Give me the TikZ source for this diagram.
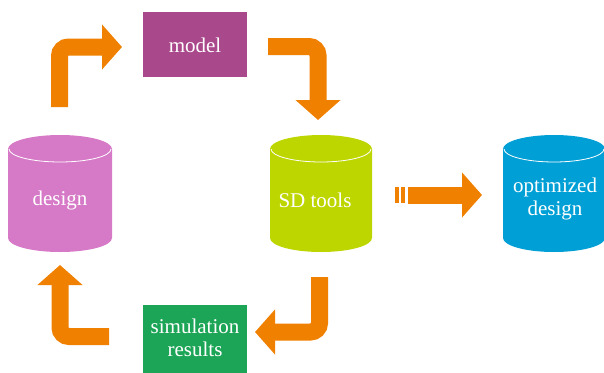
\documentclass[tikz,border=0pt]{standalone}
\usepackage{fontspec}
\setmainfont{Liberation Serif}
\usetikzlibrary{arrows.meta}
\definecolor{orangeA}{RGB}{240,128,0}
\definecolor{purpleM}{RGB}{170,72,140}
\definecolor{pinkD}{RGB}{214,122,200}
\definecolor{limeS}{RGB}{190,214,0}
\definecolor{blueO}{RGB}{0,160,214}
\definecolor{greenS}{RGB}{28,165,86}
\tikzset{
  lbl/.style={text=white, font=\fontsize{21}{24}\selectfont, align=center, inner sep=0pt},
  bigarrow/.style={orangeA, line width=17pt, rounded corners=9pt,
     -{Triangle[length=20pt,width=44pt]}},
}
\newcommand{\cylshape}[3]{% left x, right x, color
  \pgfmathsetmacro{\crx}{(#2-#1)/2}
  \fill[#3] (#1,149) -- (#1,238) arc[start angle=180,end angle=0,x radius=\crx,y radius=14]
     -- (#2,149) arc[start angle=0,end angle=-180,x radius=\crx,y radius=14] -- cycle;
  \draw[white, line width=0.8pt] (#1+1,149) arc[start angle=180,end angle=0,x radius=\crx-1,y radius=13];
}
\begin{document}
\begin{tikzpicture}[x=1pt,y=-1pt]
\useasboundingbox (0,0) rectangle (604,372);
% cylinders
\cylshape{8}{112}{pinkD}
\cylshape{270}{372}{limeS}
\cylshape{503}{605}{blueO}
% boxes
\fill[purpleM] (143,12) rectangle (247,77);
\fill[greenS] (143,305) rectangle (247,374);
% labels
\node[lbl] (model) at (195,45) {model};
\node[lbl] (design) at (60,200) {design};
\node[lbl] (sdtools) at (315,200) {SD tools};
\node[lbl] (optim) at (555,199) {optimized\\[-1pt]design};
\node[lbl] (simres) at (195,338) {simulation\\[-1pt]results};
% connector end points
\coordinate (a1s) at (59.5,107);
\coordinate (a1e) at (122,47);
\coordinate (a2s) at (268,46.5);
\coordinate (a2e) at (318,120);
\coordinate (a3s) at (319.5,277);
\coordinate (a3e) at (255,332);
\coordinate (a4s) at (109,336.5);
\coordinate (a4e) at (60,265);
\coordinate (a5s) at (408,195);
\coordinate (a5e) at (482,195);
% arrows
\draw[bigarrow] (a1s) |- (a1e);
\draw[bigarrow] (a2s) -| (a2e);
\draw[bigarrow] (a3s) |- (a3e);
\draw[bigarrow] (a4s) -| (a4e);
\draw[bigarrow] (a5s) -- (a5e);
\fill[orangeA] (395,187) rectangle (398.5,203);
\fill[orangeA] (401,187) rectangle (404.5,203);
\end{tikzpicture}
\end{document}
